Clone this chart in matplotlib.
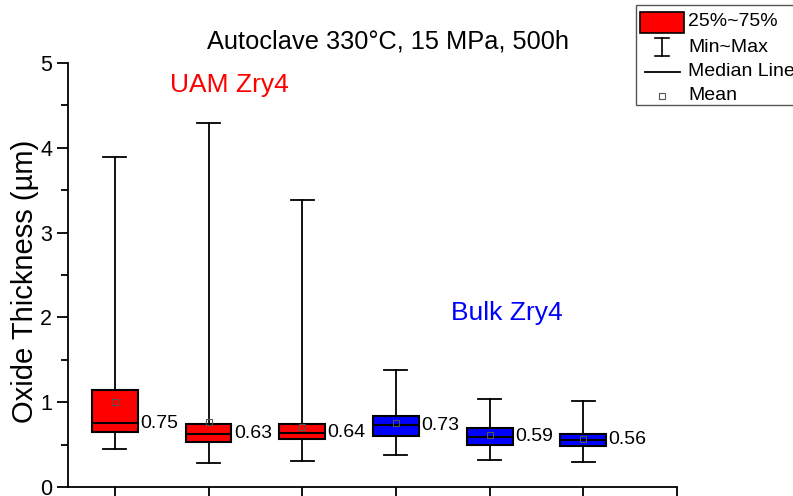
import matplotlib
matplotlib.use("Agg")
import matplotlib.pyplot as plt
from matplotlib.patches import Rectangle
from matplotlib.lines import Line2D
from matplotlib.ticker import MultipleLocator

plt.rcParams['font.family'] = ['Liberation Sans', 'DejaVu Sans']

positions = [1, 2, 3, 4, 5, 6]
q1 = [0.65, 0.53, 0.57, 0.60, 0.50, 0.48]
median = [0.75, 0.63, 0.64, 0.73, 0.59, 0.56]
q3 = [1.14, 0.74, 0.74, 0.84, 0.70, 0.625]
whislo = [0.45, 0.28, 0.31, 0.38, 0.32, 0.30]
whishi = [3.89, 4.29, 3.38, 1.38, 1.04, 1.01]
mean = [1.00, 0.77, 0.71, 0.75, 0.61, 0.57]
colors = ['#FF0000', '#FF0000', '#FF0000', '#0000FF', '#0000FF', '#0000FF']
median_labels = ['0.75', '0.63', '0.64', '0.73', '0.59', '0.56']

W, H = 793, 496
fig = plt.figure(figsize=(W / 100, H / 100), dpi=100)
ax = fig.add_axes([68 / W, 1 - 487 / H, (677 - 68) / W, (487 - 63) / H])

stats = []
for i in range(len(positions)):
    stats.append(dict(med=median[i], q1=q1[i], q3=q3[i], whislo=whislo[i],
                      whishi=whishi[i], mean=mean[i], fliers=[]))

bp = ax.bxp(stats, positions=positions, widths=0.49, capwidths=0.245,
            patch_artist=True, showmeans=True, showfliers=False,
            boxprops=dict(linewidth=1.5, edgecolor='black'),
            medianprops=dict(color='black', linewidth=1.5),
            whiskerprops=dict(color='black', linewidth=1.3),
            capprops=dict(color='black', linewidth=1.3),
            meanprops=dict(marker='s', markerfacecolor='none',
                           markeredgecolor='#555555', markersize=4,
                           markeredgewidth=0.8))
for patch, c in zip(bp['boxes'], colors):
    patch.set_facecolor(c)

for p, m, t in zip(positions, median, median_labels):
    ax.text(p + 0.27, m, t, ha='left', va='center', fontsize=14)

ax.set_xlim(0.5, 7)
ax.set_ylim(0, 5)
ax.set_xticks([1, 2, 3, 4, 5, 6, 7])
ax.set_xticklabels([])
ax.yaxis.set_major_locator(MultipleLocator(1))
ax.yaxis.set_minor_locator(MultipleLocator(0.5))
ax.tick_params(axis='y', which='major', direction='out', length=8, width=1.3, labelsize=15.5)
ax.tick_params(axis='y', which='minor', direction='out', length=5, width=1.3)
ax.tick_params(axis='x', which='major', direction='out', length=8, width=1.3)
for s in ['top', 'right']:
    ax.spines[s].set_visible(False)
for s in ['left', 'bottom']:
    ax.spines[s].set_linewidth(1.3)

ax.set_ylabel('Oxide Thickness (\u00b5m)', fontsize=21)
ax.yaxis.set_label_coords(-0.048, 0.486)

ax.text(2.22, 4.74, 'UAM Zry4', color='#FF0000', fontsize=19, ha='center', va='center')
ax.text(5.18, 2.05, 'Bulk Zry4', color='#0000FF', fontsize=19, ha='center', va='center')

fig.text(388 / W, 1 - 42 / H, 'Autoclave 330\u00b0C, 15 MPa, 500h', fontsize=18.3,
         ha='center', va='center')

# Legend drawn manually in figure pixel coordinates
def fx(x):
    return x / W

def fy(y):
    return 1 - y / H

fig.patches.append(Rectangle((fx(636), fy(105)), fx(800) - fx(636), fy(5) - fy(105),
                             transform=fig.transFigure, facecolor='white',
                             edgecolor='#555555', linewidth=1.0, zorder=5))
fig.patches.append(Rectangle((fx(640), fy(33)), fx(684) - fx(640), fy(12) - fy(33),
                             transform=fig.transFigure, facecolor='#FF0000',
                             edgecolor='black', linewidth=1.2, zorder=6))
# Min~Max I-beam
for (x0, y0, x1, y1) in [(662, 38, 662, 56), (655, 38, 669, 38), (655, 56, 669, 56)]:
    fig.add_artist(Line2D([fx(x0), fx(x1)], [fy(y0), fy(y1)], transform=fig.transFigure,
                          color='black', linewidth=1.2, zorder=6))
# Median line
fig.add_artist(Line2D([fx(645), fx(680)], [fy(72), fy(72)], transform=fig.transFigure,
                      color='black', linewidth=1.3, zorder=6))
# Mean marker
fig.add_artist(Line2D([fx(662)], [fy(96)], transform=fig.transFigure, marker='s',
                      markersize=4, markerfacecolor='none', markeredgecolor='#555555',
                      markeredgewidth=0.8, linestyle='none', zorder=6))
for y, t in [(22, '25%~75%'), (47, 'Min~Max'), (72, 'Median Line'), (96, 'Mean')]:
    fig.text(fx(688), fy(y), t, fontsize=14, ha='left', va='center', zorder=7)

fig.savefig('out.png', dpi=100)
